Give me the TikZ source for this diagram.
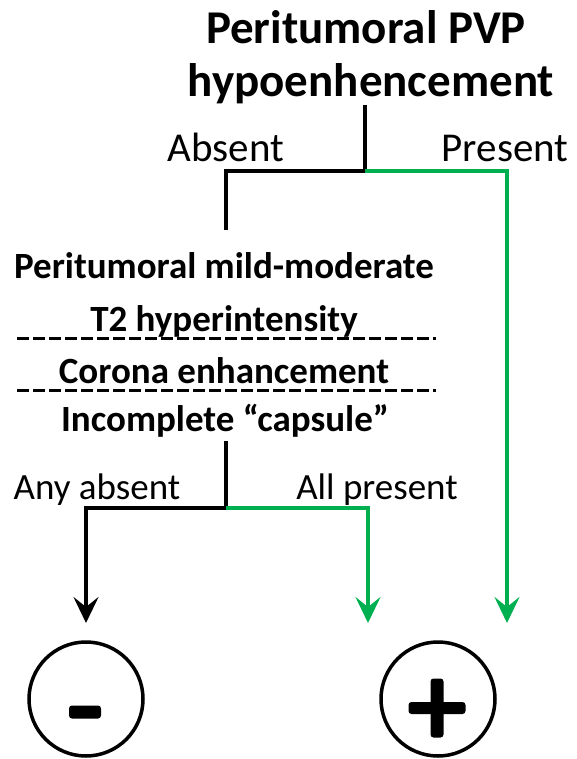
\documentclass[tikz,border=0pt]{standalone}
\usepackage{fontspec}
\setmainfont{Carlito}
\usetikzlibrary{arrows.meta}
\definecolor{okgreen}{HTML}{00B050}
\begin{document}
\begin{tikzpicture}[x=1pt,y=-1pt,
  lbl/.style={inner sep=0pt, anchor=base},
  titletxt/.style={lbl, font=\fontsize{47}{56}\selectfont\bfseries},
  crit/.style={lbl, font=\fontsize{37}{44}\selectfont\bfseries},
  branch/.style={lbl, font=\fontsize{41}{49}\selectfont},
  branchsm/.style={lbl, font=\fontsize{37}{44}\selectfont},
  wire/.style={line width=3.5pt},
  yes/.style={wire, draw=okgreen},
  no/.style={wire, draw=black},
  tip/.style={-{Stealth[length=26pt,width=25pt,inset=10pt]}},
  result/.style={circle, draw, line width=3.5pt, minimum size=114pt, inner sep=0pt},
  bar/.style={fill=black, rounded corners=3pt, inner sep=0pt},
  dashrule/.style={line width=3pt, dash pattern=on 11.5pt off 4.5pt},
]
\useasboundingbox (0,0) rectangle (577,759);

% first question
\node[titletxt] (t1) at (366,44) {Peritumoral PVP};
\node[titletxt] (t2) at (371,97) {hypoenhencement};
\node[branch] (lA) at (226,162) {Absent};
\node[branch] (lP) at (505,162) {Present};

% second question: three criteria
\node[crit] (c1) at (224,278) {Peritumoral mild-moderate};
\node[crit] (c2) at (224,331) {T2 hyperintensity};
\node[crit] (c3) at (224,383) {Corona enhancement};
\node[crit] (c4) at (225,431) {Incomplete “capsule”};
\node[branchsm] (lAny) at (97,499) {Any absent};
\node[branchsm] (lAll) at (377,499) {All present};

% dashed separators between criteria
\coordinate (r1a) at (17,338);  \coordinate (r1b) at (436,338);
\coordinate (r2a) at (17,390);  \coordinate (r2b) at (436,390);
\draw[dashrule] (r1a) -- (r1b);
\draw[dashrule] (r2a) -- (r2b);

% outcomes
\node[result] (neg) at (86,699) {};
\node[result] (pos) at (438,699) {};
\node[bar, minimum width=32pt, minimum height=13pt] (negbar) at (85,712) {};
\node[bar, minimum width=57pt, minimum height=12pt] (posh) at (437,708) {};
\node[bar, minimum width=13pt, minimum height=59pt] (posv) at (437,708) {};

% branch points and arrow ends
\coordinate (j1) at (365,171);
\coordinate (a1) at (226,230);
\coordinate (g1) at (507,623);
\coordinate (j2) at (226,508);
\coordinate (n1) at (86,623);
\coordinate (p1) at (368,623);

% connectors
\draw[no] (t2.south -| j1) -- (j1) -| (a1);
\draw[yes, tip] (j1) -| (g1);
\draw[no] (c4.south -| j2) ++(0,4) -- (j2);
\draw[no, tip] (j2) -| (n1);
\draw[yes, tip] (j2) -| (p1);
\end{tikzpicture}
\end{document}
